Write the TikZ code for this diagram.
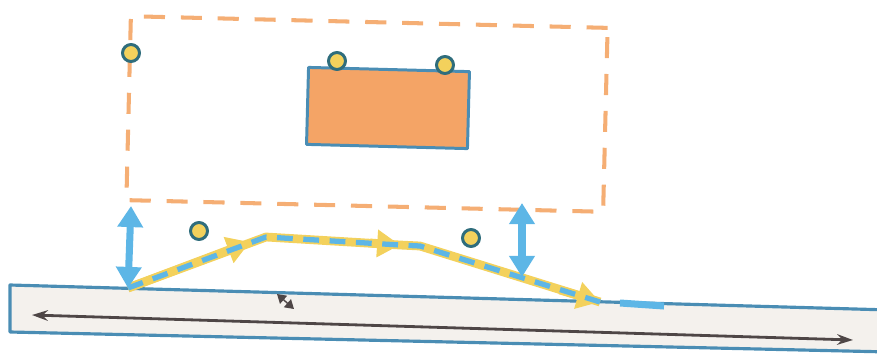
\documentclass[tikz,border=0pt]{standalone}
\usetikzlibrary{arrows.meta}

\definecolor{frameorange}{HTML}{F5AE74}
\definecolor{boxorange}{HTML}{F4A466}
\definecolor{edgeblue}{HTML}{4A8DB4}
\definecolor{liftblue}{HTML}{5DB6E6}
\definecolor{trailyellow}{HTML}{F3D15C}
\definecolor{ringteal}{HTML}{2F6D7C}
\definecolor{barfill}{HTML}{F4F1ED}
\definecolor{axisgrey}{HTML}{4E4646}

\tikzset{
  pin/.style={circle, draw=ringteal, fill=trailyellow, line width=1.7pt,
    minimum size=0.34cm, inner sep=0pt},
  lift/.style={liftblue, line width=4pt,
    {Triangle[width=14pt,length=12pt]}-{Triangle[width=14pt,length=12pt]}},
  trail/.style={trailyellow, line width=5pt, line cap=butt, line join=round},
  trailtip/.style={-{Triangle[width=15pt,length=13pt]}},
  trailmark/.style={liftblue, line width=3pt, dash pattern=on 9pt off 6pt}
}

\begin{document}
\begin{tikzpicture}[x=0.02cm, y=-0.02cm, line join=round, >=stealth]

  \useasboundingbox (0,0) rectangle (877,356);

  % ── Rail ─────────────────────────────────────────────────────────────────────

  \filldraw[fill=barfill, draw=edgeblue, line width=1.8pt]
    (10,285) -- (890,310) -- (890,352) -- (10,332) -- cycle;

  \coordinate (railL) at (32,315);
  \coordinate (railR) at (853,340);
  \draw[axisgrey, line width=1.6pt, {Stealth[length=9pt,width=6pt]}-{Stealth[length=9pt,width=6pt]}]
    (railL) -- (railR);

  \coordinate (tickA) at (277,294);
  \coordinate (tickB) at (294,309);
  \draw[axisgrey, line width=0.8pt, {Triangle[length=5pt,width=6pt]}-{Triangle[length=5pt,width=6pt]}]
    (tickA) -- (tickB);

  % ── Frame and box ────────────────────────────────────────────────────────────

  \node[draw=frameorange, line width=2.3pt, dash pattern=on 12pt off 9pt,
        minimum width=9.54cm, minimum height=3.68cm, rotate=-1.4]
    (frame) at (367,114) {};

  \node[draw=edgeblue, fill=boxorange, line width=1.7pt,
        minimum width=3.22cm, minimum height=1.54cm, rotate=-1.5]
    (load) at (388,108) {};

  \node[pin] (pinA) at (337,61)  {};
  \node[pin] (pinB) at (445,65)  {};
  \node[pin] (pinC) at (131,53)  {};
  \node[pin] (pinD) at (199,231) {};
  \node[pin] (pinE) at (471,238) {};

  % ── Trail ────────────────────────────────────────────────────────────────────

  \coordinate (start) at (128,288);
  \coordinate (tipA)  at (250,242);
  \coordinate (bendA) at (266,237);
  \coordinate (preB)  at (370,243);
  \coordinate (tipB)  at (400,245);
  \coordinate (bendB) at (420,246);
  \coordinate (preC)  at (560,290);
  \coordinate (tipC)  at (600,302);
  \coordinate (onset) at (620,303);
  \coordinate (stop)  at (664,306);

  \draw[trail] (start) -- (bendA) -- (tipB) -- (bendB) -- (tipC);
  \draw[trail, trailtip] (start) -- (tipA);
  \draw[trail, trailtip] (preB) -- (tipB);
  \draw[trail, trailtip] (preC) -- (tipC);

  \draw[trailmark] (start) -- (bendA) -- (tipB) -- (bendB) -- (tipC);
  \draw[liftblue, line width=4pt] (onset) -- (stop);

  % ── Gaps ─────────────────────────────────────────────────────────────────────

  \coordinate (gapL) at (131,206);
  \coordinate (gapR) at (522,203);
  \coordinate (footR) at (522,277);

  \draw[lift] (gapL) -- (start);
  \draw[lift] (gapR) -- (footR);

\end{tikzpicture}
\end{document}
